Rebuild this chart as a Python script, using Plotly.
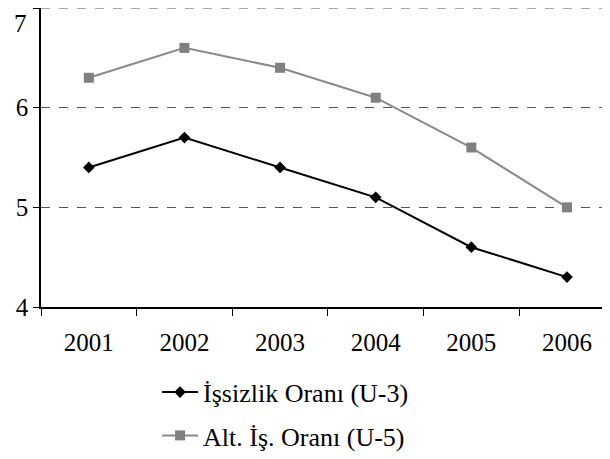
import plotly.graph_objects as go

years = ["2001", "2002", "2003", "2004", "2005", "2006"]
u3 = [5.4, 5.7, 5.4, 5.1, 4.6, 4.3]
u5 = [6.3, 6.6, 6.4, 6.1, 5.6, 5.0]
name_u3 = "İşsizlik Oranı (U-3)"
name_u5 = "Alt. İş. Oranı (U-5)"
y_ticks = [4, 5, 6, 7]

font = "Liberation Serif, DejaVu Serif, serif"
FS = 25

fig = go.Figure()
fig.add_trace(go.Scatter(
    x=years, y=u3, name=name_u3, mode="lines+markers",
    line=dict(color="black", width=2),
    marker=dict(symbol="diamond", size=9, color="black"),
    legend="legend", cliponaxis=False, showlegend=True,
))
fig.add_trace(go.Scatter(
    x=years, y=u5, name=name_u5, mode="lines+markers",
    line=dict(color="#8a8a8a", width=2),
    marker=dict(symbol="square", size=10, color="#808080"),
    legend="legend2", cliponaxis=False, showlegend=True,
))

# the page adds an 8px body margin, so margins are reduced by 8px
fig.update_layout(
    width=602, height=451,
    margin=dict(l=33, r=0, t=0, b=149),
    paper_bgcolor="white", plot_bgcolor="white",
    showlegend=True,
    font=dict(family=font, size=FS, color="black"),
    legend=dict(x=0.204, y=-0.285, xanchor="left", yanchor="middle",
                itemwidth=36, font=dict(family=font, size=26),
                bgcolor="rgba(0,0,0,0)"),
    legend2=dict(x=0.204, y=-0.43, xanchor="left", yanchor="middle",
                 itemwidth=36, font=dict(family=font, size=26),
                 bgcolor="rgba(0,0,0,0)"),
    xaxis=dict(
        type="category", range=[-0.5, 5.45],
        showline=True, linecolor="black", linewidth=1.5,
        ticks="outside", tickson="boundaries", ticklen=7, tickcolor="black",
        ticklabelstandoff=12,
        showgrid=False, zeroline=False,
        tickfont=dict(family=font, size=FS),
    ),
    yaxis=dict(
        range=[4, 7], tickvals=y_ticks,
        ticktext=[str(v) if v != 7 else "" for v in y_ticks],
        showline=True, linecolor="black", linewidth=1.5,
        ticks="outside", ticklen=6, tickcolor="black",
        showgrid=True, gridcolor="#555555", griddash="dash", gridwidth=1,
        zeroline=False,
        tickfont=dict(family=font, size=FS),
    ),
    shapes=[dict(
        type="line", xref="paper", yref="y", x0=0, x1=1,
        y0=y_ticks[-1], y1=y_ticks[-1],
        line=dict(color="#555555", width=1, dash="dash"), layer="below",
    )],
    annotations=[dict(
        text=str(y_ticks[-1]), xref="paper", yref="y", x=0, y=y_ticks[-1],
        xanchor="right", yanchor="top", xshift=-12, yshift=0,
        showarrow=False, font=dict(family=font, size=FS),
    )],
)

fig.write_html("out.html")
